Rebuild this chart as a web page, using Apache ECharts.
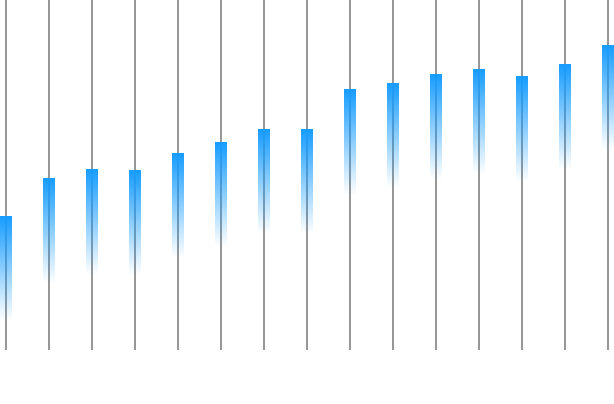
<!DOCTYPE html>
<html>
<head>
<meta charset="utf-8">
<script src="https://cdn.jsdelivr.net/npm/echarts@6/dist/echarts.min.js"></script>
<style>html,body{margin:0;padding:0;background:#fff;}#c{width:614px;height:404px;}</style>
</head>
<body>
<div id="c"></div>
<script>
const categories = ['1','2','3','4','5','6','7','8','9','10','11','12','13','14','15'];
const highs = [134, 172, 181, 180, 197, 208, 221, 221, 261, 267, 276, 281, 274, 286, 305];
const lows  = [29, 67, 75, 75, 92, 103, 116, 116, 155, 162, 171, 176, 168, 180, 200];

const chart = echarts.init(document.getElementById('c'));
chart.setOption({
  animation: false,
  grid: { left: 6, right: 6, top: 0, bottom: 54, containLabel: false },
  xAxis: {
    type: 'category',
    data: categories,
    boundaryGap: false,
    axisLine: { show: false },
    axisTick: { show: false },
    axisLabel: { show: false },
    splitLine: { show: true, lineStyle: { color: '#979797', width: 2 } }
  },
  yAxis: {
    type: 'value', min: 0, max: 350,
    axisLine: { show: false }, axisTick: { show: false },
    axisLabel: { show: false }, splitLine: { show: false }
  },
  series: [
    {
      type: 'bar', stack: 'r', barWidth: 12, clip: false,
      itemStyle: { color: 'rgba(0,0,0,0)' },
      data: lows
    },
    {
      type: 'bar', stack: 'r', barWidth: 12, clip: false,
      itemStyle: {
        color: new echarts.graphic.LinearGradient(0, 0, 0, 1, [
          { offset: 0, color: 'rgba(22,156,255,1)' },
          { offset: 1, color: 'rgba(22,156,255,0)' }
        ])
      },
      data: highs.map((h, i) => h - lows[i])
    }
  ]
});
</script>
</body>
</html>
